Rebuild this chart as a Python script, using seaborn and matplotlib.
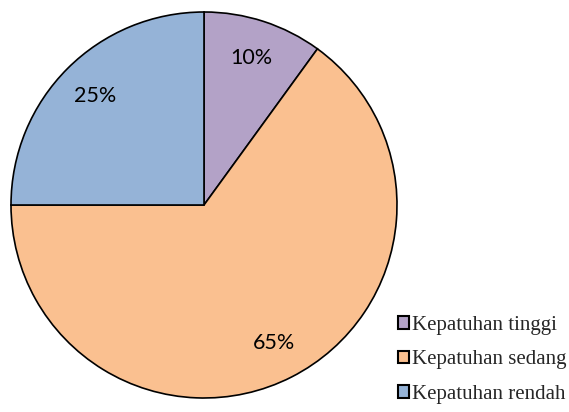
import matplotlib
matplotlib.use("Agg")
import matplotlib.pyplot as plt
import seaborn as sns

categories = ["Kepatuhan tinggi", "Kepatuhan sedang", "Kepatuhan rendah"]
values = [10, 65, 25]
colors = ["#B3A2C7", "#FAC090", "#95B3D7"]

sns.set_style("white")

W, H = 569, 412
fig = plt.figure(figsize=(W / 100, H / 100), dpi=100)
cx, cy, r = 204, 205, 193
ax = fig.add_axes([(cx - r) / W, (H - cy - r) / H, 2 * r / W, 2 * r / H])

wedges, texts, autotexts = ax.pie(
    values, colors=colors, startangle=90, counterclock=False,
    autopct=lambda p: f"{p:.0f}%", pctdistance=0.8,
    wedgeprops=dict(edgecolor="black", linewidth=1.2),
    textprops=dict(fontsize=15.5, family=["Lato", "DejaVu Sans"], color="black"),
)
ax.set_xlim(-1, 1)
ax.set_ylim(-1, 1)
ax.set_aspect("equal")
ax.axis("off")

leg = fig.legend(
    wedges, categories, loc="upper left",
    bbox_to_anchor=(398 / W, (H - 316) / H),
    frameon=False, prop=dict(family="Liberation Serif", size=15),
    handlelength=0.53, handleheight=0.53, handletextpad=0.15,
    labelspacing=0.74, borderaxespad=0, borderpad=0,
)
for h in leg.legend_handles:
    h.set_edgecolor("black")
    h.set_linewidth(1.5)

fig.savefig("out.png", dpi=100)
